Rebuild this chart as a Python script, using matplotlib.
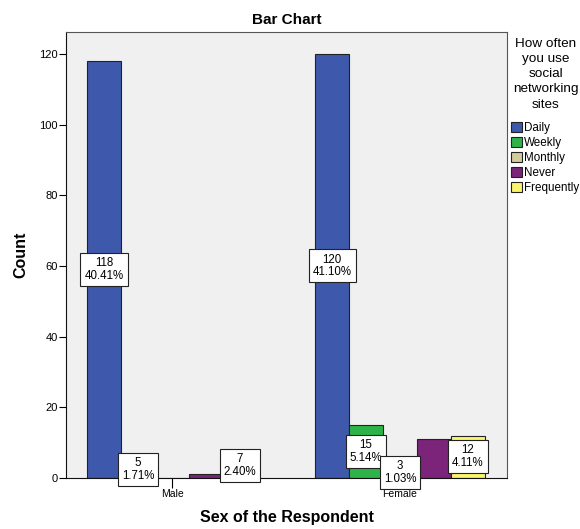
import matplotlib
matplotlib.use("Agg")
import matplotlib.pyplot as plt
import numpy as np
from matplotlib.patches import Patch

plt.rcParams['font.family'] = ['Liberation Sans', 'DejaVu Sans']

categories = ["Male", "Female"]
series_names = ["Daily", "Weekly", "Monthly", "Never", "Frequently"]
daily = [118, 120]
weekly = [5, 15]
monthly = [0, 3]
never = [1, 11]
frequently = [7, 12]
percent_labels = {
    "Daily": ["40.41%", "41.10%"],
    "Weekly": ["1.71%", "5.14%"],
    "Monthly": [None, "1.03%"],
    "Never": [None, None],
    "Frequently": ["2.40%", "4.11%"],
}
colors = ["#3E58AC", "#2DB34A", "#D3CD9A", "#7B2479", "#F9F56C"]
values = [daily, weekly, monthly, never, frequently]

fig = plt.figure(figsize=(5.8, 5.29), dpi=100)
ax = fig.add_axes([66/580, 51/529, 441/580, 446/529])
ax.set_facecolor("#F0F0F0")

x = np.arange(len(categories))
w = 0.149
n = len(series_names)
for i, (name, vals, c) in enumerate(zip(series_names, values, colors)):
    pos = x + (i - (n - 1) / 2) * w
    ax.bar(pos, vals, width=w, color=c, edgecolor="#222222", linewidth=0.8, zorder=2)
    for p, v, pct in zip(pos, vals, percent_labels[name]):
        if pct is None:
            continue
        ax.text(p, v / 2, f"{v}\n{pct}", ha="center", va="center", fontsize=8.3,
                linespacing=1.1, zorder=4,
                bbox=dict(boxstyle="square,pad=0.35", fc="white", ec="#222222", lw=0.8))

ax.set_xlim(-0.465, 1.469)
ax.set_ylim(0, 126.2)
ax.set_yticks(np.arange(0, 121, 20))
ax.set_xticks(x)
ax.set_xticklabels(categories, fontsize=7.5)
ax.tick_params(axis="y", labelsize=8, length=5, width=0.8, direction="out", pad=1)
ax.tick_params(axis="x", length=7, width=0.8, direction="out", pad=1)
for s in ["top", "right"]:
    ax.spines[s].set_color("#555555")
for s in ["left", "bottom"]:
    ax.spines[s].set_color("#111111")
for s in ax.spines.values():
    s.set_linewidth(0.8)

ax.set_title("Bar Chart", fontsize=11, fontweight="bold", pad=6)
ax.set_xlabel("Sex of the Respondent", fontsize=11.5, fontweight="bold", labelpad=8)
ax.set_ylabel("Count", fontsize=11.5, fontweight="bold", labelpad=8)

fig.text(546/580, 1 - 38/529, "How often\nyou use\nsocial\nnetworking\nsites",
         ha="center", va="top", fontsize=9.7, linespacing=1.35)

handles = [Patch(facecolor=c, edgecolor="#222222", linewidth=0.8) for c in colors]
fig.legend(handles, series_names, loc="upper left",
           bbox_to_anchor=(511/580, 1 - 122/529), frameon=False, fontsize=8.4,
           handlelength=0.95, handleheight=0.95, handletextpad=0.2,
           labelspacing=0.25, borderpad=0, borderaxespad=0)

fig.savefig("out.png", dpi=100)
